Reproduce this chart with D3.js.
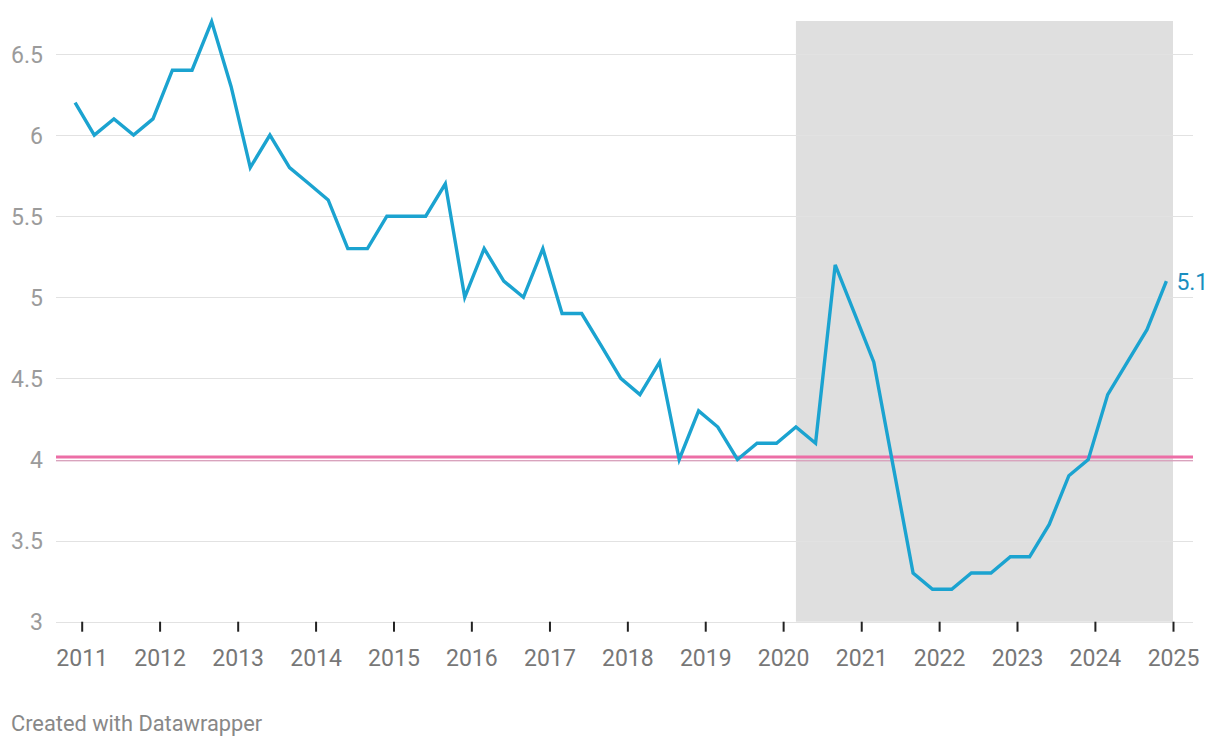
<!DOCTYPE html>
<html>
<head>
<meta charset="utf-8">
<script src="https://cdn.jsdelivr.net/npm/d3@7"></script>
<style>
  html, body { margin: 0; padding: 0; background: #fff; }
  svg { display: block; font-family: Roboto, "Noto Sans", sans-serif; }
</style>
</head>
<body>
<svg id="chart" width="1220" height="748"></svg>
<script>
// ---- Data ----
const periods = [
  "2010-12","2011-03","2011-06","2011-09","2011-12","2012-03","2012-06","2012-09","2012-12",
  "2013-03","2013-06","2013-09","2013-12","2014-03","2014-06","2014-09","2014-12",
  "2015-03","2015-06","2015-09","2015-12","2016-03","2016-06","2016-09","2016-12",
  "2017-03","2017-06","2017-09","2017-12","2018-03","2018-06","2018-09","2018-12",
  "2019-03","2019-06","2019-09","2019-12","2020-03","2020-06","2020-09","2020-12",
  "2021-03","2021-06","2021-09","2021-12","2022-03","2022-06","2022-09","2022-12",
  "2023-03","2023-06","2023-09","2023-12","2024-03","2024-06","2024-09","2024-12"
];
const values = [
  6.2, 6.0, 6.1, 6.0, 6.1, 6.4, 6.4, 6.7, 6.3,
  5.8, 6.0, 5.8, 5.7, 5.6, 5.3, 5.3, 5.5,
  5.5, 5.5, 5.7, 5.0, 5.3, 5.1, 5.0, 5.3,
  4.9, 4.9, 4.7, 4.5, 4.4, 4.6, 4.0, 4.3,
  4.2, 4.0, 4.1, 4.1, 4.2, 4.1, 5.2, 4.9,
  4.6, 3.95, 3.3, 3.2, 3.2, 3.3, 3.3, 3.4,
  3.4, 3.6, 3.9, 4.0, 4.4, 4.6, 4.8, 5.1
];
const yTicks = [3, 3.5, 4, 4.5, 5, 5.5, 6, 6.5];
const xTickYears = [2011,2012,2013,2014,2015,2016,2017,2018,2019,2020,2021,2022,2023,2024,2025];
const shadeRange = ["2020-03-01", "2025-01-01"];
const referenceValue = 4;
const lastLabel = "5.1";
const credit = "Created with Datawrapper";

// ---- Scales ----
const parse = d3.timeParse("%Y-%m");
const data = periods.map((p, i) => ({ date: parse(p), value: values[i] }));

const x = d3.scaleTime()
  .domain([new Date(2011, 0, 1), new Date(2025, 0, 1)])
  .range([81.7, 1173]);
const y = d3.scaleLinear().domain([3, 6.5]).range([621.7, 54]);

const svg = d3.select("#chart");

// Shaded period
const sd0 = d3.timeParse("%Y-%m-%d")(shadeRange[0]);
const sd1 = d3.timeParse("%Y-%m-%d")(shadeRange[1]);
svg.append("rect")
  .attr("x", x(sd0)).attr("y", 21)
  .attr("width", x(sd1) - x(sd0))
  .attr("height", y(3) - 21)
  .attr("fill", "#dfdfdf");

// Gridlines
svg.append("g").selectAll("line").data(yTicks).join("line")
  .attr("x1", 56).attr("x2", 1193)
  .attr("y1", d => Math.round(y(d)) + 0.5).attr("y2", d => Math.round(y(d)) + 0.5)
  .attr("stroke", "#e2e2e2")
  .attr("stroke-width", 1.2);

// Y tick labels
svg.append("g").selectAll("text").data(yTicks).join("text")
  .attr("x", 43).attr("y", d => y(d) + 8.5)
  .attr("text-anchor", "end")
  .attr("fill", "#9b9b9b")
  .attr("font-size", 23)
  .text(d => d3.format("")(d));

// Reference line (pink)
svg.append("line")
  .attr("x1", 56).attr("x2", 1193)
  .attr("y1", y(referenceValue) - 2.5).attr("y2", y(referenceValue) - 2.5)
  .attr("stroke", "#ec6ea6").attr("stroke-width", 3);
svg.append("line")
  .attr("x1", 56).attr("x2", 1193)
  .attr("y1", y(referenceValue) + 1.3).attr("y2", y(referenceValue) + 1.3)
  .attr("stroke", "#d48aae").attr("stroke-width", 1);

// X axis ticks
const xAxis = d3.axisBottom(x)
  .tickValues(xTickYears.map(yr => new Date(yr, 0, 1)))
  .tickSize(10)
  .tickFormat(d3.timeFormat("%Y"));
const gx = svg.append("g").attr("transform", `translate(0,${y(3)})`).call(xAxis);
gx.select(".domain").remove();
gx.selectAll(".tick line").attr("stroke", "#222").attr("stroke-width", 2);
gx.selectAll(".tick text")
  .attr("y", 44)
  .attr("dy", 0)
  .attr("fill", "#777")
  .attr("font-size", 23)
  .attr("font-family", "Roboto, sans-serif");

// Line
const line = d3.line().x(d => x(d.date)).y(d => y(d.value));
svg.append("path")
  .datum(data)
  .attr("fill", "none")
  .attr("stroke", "#1ba3d0")
  .attr("stroke-width", 3.4)
  .attr("stroke-linejoin", "miter")
  .attr("d", line);

// Last value label
const last = data[data.length - 1];
svg.append("text")
  .attr("x", x(last.date) + 10)
  .attr("y", y(last.value) + 8.5)
  .attr("fill", "#1a8ec0")
  .attr("font-size", 23)
  .text(lastLabel);

// Credit
svg.append("text")
  .attr("x", 11).attr("y", 731)
  .attr("fill", "#888")
  .attr("font-size", 21.8)
  .text(credit);
</script>
</body>
</html>
